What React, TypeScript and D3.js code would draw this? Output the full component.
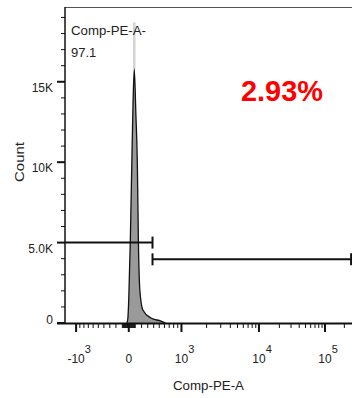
import React from 'react';
import * as d3 from 'd3';

// histogram outline (data value on the PE axis, count)
const HIST_VALUES = [-30, -15, 0, 23, 47, 65, 85, 110, 133, 150, 172, 220, 353, 533, 620];
const HIST_COUNTS = [0, 250, 1500, 4970, 9940, 13500, 15800, 13000, 9940, 4970, 2050, 810, 310, 120, 0];

// thin light grey spike above the peak
const SPIKE_VALUE = 85;
const SPIKE_COUNT = 18700;

// gates: [from, to] on the PE axis, and the height (count) each bar sits at
const GATE_FROM = [-1358, 380];
const GATE_TO = [380, 255000];
const GATE_LEVELS = [5000, 3960];

const X_MAJOR = [-1000, 0, 1000, 10000, 100000];
const X_BASES = ['-10', '0', '10', '10', '10'];
const X_EXPS = ['3', '', '3', '4', '5'];

const Y_MAJOR = [0, 5000, 10000, 15000];
const Y_LABELS = ['0', '5.0K', '10K', '15K'];

const Y_MAX = 19650;
const GATE_PERCENT = '2.93%';
const POP_NAME = 'Comp-PE-A-';
const POP_VALUE = '97.1';
const X_TITLE = 'Comp-PE-A';
const Y_TITLE = 'Count';

// logicle (biexponential) display transform, FlowJo-like settings
const T = 262144;
const M = 4.5;
const W = 1;
const LN10 = Math.log(10);
const mN = M * LN10;
const wN = W * LN10;

function solveP(w: number) {
  let lo = 1.0001, hi = 100;
  for (let i = 0; i < 80; i++) {
    const mid = (lo + hi) / 2;
    const f = (2 * mid * Math.log(mid)) / (mid + 1) - w;
    if (f > 0) hi = mid; else lo = mid;
  }
  return (lo + hi) / 2;
}
const P = solveP(wN);
const K = T * Math.exp(-(mN - wN));

function logicleS(y: number): number {
  if (y < wN) return -logicleS(2 * wN - y);
  const u = y - wN;
  return K * (Math.exp(u) - P * P * Math.exp(-u / P) + P * P - 1);
}

function logicleInv(v: number) {
  let lo = -2, hi = mN + 2;
  for (let i = 0; i < 70; i++) {
    const mid = (lo + hi) / 2;
    if (logicleS(mid) < v) lo = mid; else hi = mid;
  }
  return (lo + hi) / 2;
}

const WIDTH = 352;
const HEIGHT = 398;
const LEFT = 65;
const TOP = 7;
const BOTTOM = 323;
const FONT = 'Arial, "Liberation Sans", Helvetica, sans-serif';

export default function App() {
  const xDisp = d3.scaleLinear().domain([0, mN]).range([LEFT, WIDTH]);
  const x = (v: number) => xDisp(logicleInv(v));
  const y = d3.scaleLinear().domain([0, Y_MAX]).range([BOTTOM, TOP]);

  const axisMin = logicleS(0);

  // minor ticks: 1..9 x 10^k on both sides, as long as they are on the axis
  const xMinor: number[] = [];
  for (let k = 1; k <= 5; k++) {
    for (let j = 1; j <= 9; j++) {
      const v = j * Math.pow(10, k);
      if (X_MAJOR.indexOf(v) < 0 && v <= T) xMinor.push(v);
      if (X_MAJOR.indexOf(-v) < 0 && -v > axisMin) xMinor.push(-v);
    }
  }
  const yMinor = d3.range(1000, Y_MAX, 1000).filter((v) => v % 5000 !== 0);

  const pts = HIST_VALUES.map((v, i) => [v, HIST_COUNTS[i]] as [number, number]);
  const area = d3
    .area<[number, number]>()
    .x((d) => x(d[0]))
    .y0(y(0))
    .y1((d) => y(d[1]))
    .curve(d3.curveMonotoneX);
  const line = d3
    .line<[number, number]>()
    .x((d) => x(d[0]))
    .y((d) => y(d[1]))
    .curve(d3.curveMonotoneX);

  const baseW = (s: string) => s.length * 6.7 - (s[0] === '-' ? 2.7 : 0);

  return (
    <svg
      width={WIDTH}
      height={HEIGHT}
      style={{ position: 'absolute', left: 0, top: 0, background: '#fff' }}
      fontFamily={FONT}
    >
      <rect x={0} y={0} width={WIDTH} height={HEIGHT} fill="#fff" />

      {/* frame */}
      <line x1={LEFT} x2={WIDTH} y1={TOP + 0.5} y2={TOP + 0.5} stroke="#555" strokeWidth={1.2} />

      {/* spike */}
      <line
        x1={x(SPIKE_VALUE)}
        x2={x(SPIKE_VALUE)}
        y1={y(SPIKE_COUNT)}
        y2={y(d3.max(HIST_COUNTS) as number)}
        stroke="#d4d4d4"
        strokeWidth={2.5}
      />

      {/* histogram */}
      <path d={area(pts) || ''} fill="#9a9a9a" />
      <path d={line(pts) || ''} fill="none" stroke="#111" strokeWidth={1.3} />

      {/* gates */}
      {GATE_LEVELS.map((lvl, i) => {
        const x1 = x(GATE_FROM[i]);
        const x2 = x(GATE_TO[i]);
        const gy = y(lvl);
        return (
          <g key={'gate' + i} stroke="#111" strokeWidth={2}>
            <line x1={x1} x2={x2} y1={gy} y2={gy} />
            {GATE_FROM[i] > axisMin && <line x1={x1} x2={x1} y1={gy - 6} y2={gy + 6} />}
            <line x1={x2} x2={x2} y1={gy - 6} y2={gy + 6} />
          </g>
        );
      })}

      {/* y axis */}
      <line x1={LEFT} x2={LEFT} y1={TOP} y2={BOTTOM + 1} stroke="#111" strokeWidth={1.5} />
      {yMinor.map((v) => (
        <line key={'ym' + v} x1={LEFT - 4} x2={LEFT} y1={y(v)} y2={y(v)} stroke="#111" strokeWidth={1} />
      ))}
      {Y_MAJOR.map((v, i) => (
        <g key={'yM' + v}>
          <line x1={LEFT - 8} x2={LEFT} y1={y(v)} y2={y(v)} stroke="#111" strokeWidth={2} />
          <text x={53} y={v === 0 ? y(v) + 1 : y(v) + 10} textAnchor="end" fontSize={12} fill="#222">
            {Y_LABELS[i]}
          </text>
        </g>
      ))}
      <text
        transform={`translate(24,${(TOP + BOTTOM) / 2 - 3}) rotate(-90)`}
        textAnchor="middle"
        fontSize={12}
        textLength={40}
        lengthAdjust="spacingAndGlyphs"
        fill="#222"
      >
        {Y_TITLE}
      </text>

      {/* x axis */}
      <line x1={LEFT - 8} x2={WIDTH} y1={BOTTOM + 0.5} y2={BOTTOM + 0.5} stroke="#111" strokeWidth={2} />
      {xMinor.map((v) => (
        <line key={'xm' + v} x1={x(v)} x2={x(v)} y1={BOTTOM} y2={BOTTOM + 5} stroke="#111" strokeWidth={1} />
      ))}
      {X_MAJOR.map((v, i) => {
        const tx = x(v);
        const b = X_BASES[i];
        return (
          <g key={'xM' + v}>
            <line x1={tx} x2={tx} y1={BOTTOM} y2={BOTTOM + 9} stroke="#111" strokeWidth={2} />
            <text x={tx} y={363} textAnchor="middle" fontSize={12} fill="#222">
              {b}
            </text>
            {X_EXPS[i] && (
              <text x={tx + baseW(b) / 2} y={353} fontSize={11} fill="#222">
                {X_EXPS[i]}
              </text>
            )}
          </g>
        );
      })}
      <text
        x={208.5}
        y={390}
        textAnchor="middle"
        fontSize={12}
        textLength={71}
        lengthAdjust="spacingAndGlyphs"
        fill="#222"
      >
        {X_TITLE}
      </text>

      {/* population labels */}
      <text x={71} y={35} fontSize={13} textLength={75} lengthAdjust="spacingAndGlyphs" fill="#222">
        {POP_NAME}
      </text>
      <text x={71} y={57} fontSize={13} fill="#222">
        {POP_VALUE}
      </text>
      <text x={241} y={101} fontSize={29} fontWeight="bold" fill="#ff0000" textLength={82} lengthAdjust="spacingAndGlyphs">
        {GATE_PERCENT}
      </text>
    </svg>
  );
}
